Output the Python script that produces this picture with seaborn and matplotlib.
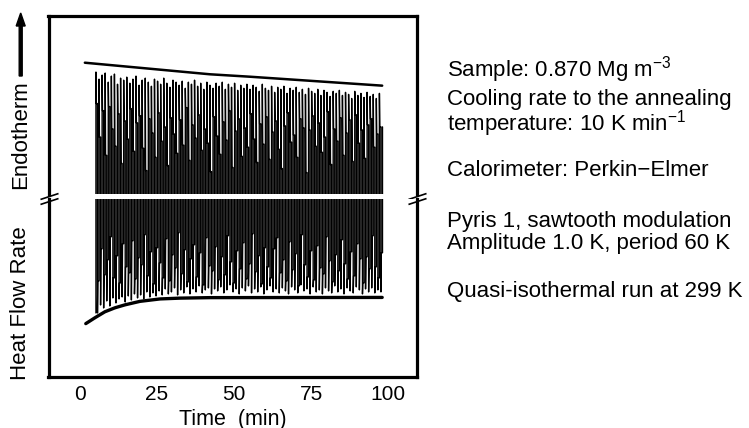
import numpy as np
import pandas as pd
import matplotlib
matplotlib.use('Agg')
import matplotlib.pyplot as plt
import seaborn as sns

# -- quasi-isothermal TMDSC run, sawtooth modulation (arbitrary heat-flow units) --
CYCLE_START = 5.2      # min, first modulation cycle
PERIOD = 1.0           # min (60 s)
SPIKE = 0.12           # min, width of the transient spike
HALF = 0.5             # min, heating half of the cycle

# thin endothermic spikes (upper panel)
UP_PEAK = [
    19.6, 18.9, 19.3, 19.5, 18.6, 19.2, 19.4, 18.4, 19.0, 18.8,
    19.1, 18.5, 18.9, 19.2, 18.3, 18.8, 19.0, 18.6, 18.2, 18.9,
    18.7, 18.4, 19.0, 18.5, 18.1, 18.8, 18.6, 18.3, 18.7, 18.0,
    18.6, 18.4, 18.8, 18.2, 18.5, 17.9, 18.6, 18.3, 18.0, 18.5,
    18.2, 18.6, 17.9, 18.4, 18.1, 18.5, 17.8, 18.3, 18.0, 18.4,
    17.9, 18.3, 18.1, 17.7, 18.4, 18.0, 17.8, 18.2, 17.6, 18.1,
    17.9, 18.2, 17.5, 18.0, 17.8, 18.1, 17.6, 17.9, 17.4, 18.0,
    17.7, 17.5, 17.9, 17.3, 17.8, 17.6, 17.2, 17.7, 17.5, 17.8,
    17.3, 17.6, 17.4, 17.0, 17.7, 17.3, 17.5, 17.1, 17.6, 17.2,
    17.4, 17.0, 17.5,
]
# level held during the heating half
UP_PLAT = [
    16.5, 13.2, 15.8, 11.4, 16.2, 14.0, 12.3, 15.5, 10.6, 14.8,
    13.0, 16.0, 11.8, 14.6, 15.3, 12.1, 9.9, 15.0, 13.6, 11.2,
    15.6, 12.8, 14.2, 10.4, 15.1, 13.5, 11.6, 14.9, 12.4, 16.1,
    10.9, 14.4, 13.1, 15.4, 11.9, 14.0, 12.6, 9.8, 15.2, 13.3,
    11.5, 14.7, 12.9, 15.8, 10.2, 13.8, 15.0, 11.3, 14.1, 12.2,
    15.5, 13.0, 10.7, 14.5, 12.5, 15.2, 11.0, 13.7, 14.8, 12.0,
    10.1, 14.3, 15.6, 12.7, 13.4, 11.2, 15.0, 14.1, 9.7, 13.9,
    15.3, 12.3, 14.6, 11.7, 13.2, 15.7, 10.5, 14.0, 12.8, 15.1,
    11.4, 13.6, 14.9, 10.8, 15.4, 12.6, 13.9, 11.1, 14.4, 15.0,
    12.2, 13.5, 14.2,
]
# thin exothermic spikes (lower panel)
LOW_PEAK = [
    -18.4, -17.6, -17.9, -17.2, -17.7, -16.9, -17.4, -17.0, -16.8, -17.3,
    -16.7, -17.1, -16.5, -16.9, -16.6, -17.0, -16.3, -16.8, -16.4, -16.7,
    -16.2, -16.6, -16.0, -16.5, -16.3, -15.9, -16.6, -16.1, -16.4, -15.8,
    -16.5, -16.0, -16.3, -15.7, -16.4, -16.1, -15.9, -16.5, -16.0, -16.2,
    -15.8, -16.4, -16.1, -15.6, -16.3, -16.0, -16.5, -15.9, -16.2, -15.7,
    -16.4, -16.0, -16.3, -15.8, -16.5, -16.1, -15.7, -16.3, -16.0, -16.4,
    -15.9, -16.2, -16.5, -15.8, -16.1, -16.4, -15.6, -16.2, -16.0, -16.5,
    -15.8, -16.3, -16.1, -16.5, -15.9, -16.2, -16.4, -15.7, -16.3, -16.0,
    -16.5, -15.9, -16.2, -16.4, -15.8, -16.1, -16.5, -16.0, -16.3, -15.9,
    -16.4, -16.1, -16.3,
]
# level held during the cooling half
LOW_PLAT = [
    -15.2, -12.0, -14.6, -13.1, -10.8, -14.9, -12.7, -15.4, -11.5, -13.8,
    -14.4, -11.2, -15.0, -12.9, -13.6, -10.6, -14.7, -12.3, -15.5, -11.9,
    -13.4, -14.9, -11.0, -15.2, -12.6, -13.9, -10.4, -14.5, -12.1, -15.3,
    -13.0, -11.6, -14.8, -12.4, -15.6, -10.9, -13.7, -14.2, -11.8, -15.1,
    -12.8, -14.6, -10.7, -13.3, -15.4, -12.2, -14.0, -11.4, -15.0, -13.5,
    -10.5, -14.3, -12.7, -15.5, -11.9, -13.8, -14.9, -12.0, -10.9, -14.4,
    -13.1, -15.2, -11.3, -14.1, -12.5, -15.7, -10.6, -13.6, -14.8, -12.2,
    -15.1, -11.7, -13.9, -14.5, -10.8, -13.2, -15.3, -12.6, -14.2, -11.1,
    -13.5, -15.0, -12.3, -14.7, -11.5, -13.0, -15.4, -12.8, -14.0, -10.7,
    -13.8, -14.9, -12.4,
]

# envelope curves
UP_ENV_T = [1.6, 16.2, 42.2, 55.2, 98.1]
UP_ENV_Y = [20.52, 20.11, 19.38, 19.14, 18.26]
LOW_ENV_T = [1.9, 4.9, 8.1, 11.4, 14.6, 19.5, 26.0, 32.5, 42.2, 98.1]
LOW_ENV_Y = [-19.46, -18.87, -18.28, -17.88, -17.59, -17.24, -17.00, -16.92, -16.87, -16.85]

XTICKS = [0, 25, 50, 75, 100]
UP_YTICKS = [10, 20]
LOW_YTICKS = [-20, -10]

NOTES = [
    (70, 'Sample: 0.870 Mg m$^{-3}$'),
    (99, 'Cooling rate to the annealing'),
    (124, 'temperature: 10 K min$^{-1}$'),
    (170, 'Calorimeter: Perkin\u2212Elmer'),
    (221, 'Pyris 1, sawtooth modulation'),
    (243, 'Amplitude 1.0 K, period 60 K'),
    (292, 'Quasi-isothermal run at 299 K'),
]


def build_signal():
    t, y = [CYCLE_START], [LOW_PEAK[0]]
    for i in range(len(UP_PEAK)):
        t0 = CYCLE_START + i * PERIOD
        t += [t0, t0 + SPIKE, t0 + HALF, t0 + HALF, t0 + HALF + SPIKE, t0 + PERIOD]
        y += [UP_PEAK[i], UP_PLAT[i], UP_PLAT[i], LOW_PEAK[i], LOW_PLAT[i], LOW_PLAT[i]]
    t.append(CYCLE_START + len(UP_PEAK) * PERIOD)
    y.append(UP_PLAT[-1])
    return pd.DataFrame({'time': t, 'heat': y})


def main():
    sns.set_style('white')
    plt.rcParams['font.family'] = ['Liberation Sans', 'DejaVu Sans']
    plt.rcParams['mathtext.fontset'] = 'custom'
    plt.rcParams['mathtext.rm'] = 'Liberation Sans'
    plt.rcParams['mathtext.it'] = 'Liberation Sans:italic'
    plt.rcParams['text.color'] = 'black'
    plt.rcParams['axes.labelcolor'] = 'black'
    plt.rcParams['xtick.color'] = 'black'
    plt.rcParams['ytick.color'] = 'black'

    W, H = 749, 428
    fig = plt.figure(figsize=(W / 100, H / 100), dpi=100)
    left, right = 48.5 / W, 417 / W
    ax_up = fig.add_axes([left, 1 - 194 / H, right - left, (194 - 16) / H])
    ax_lo = fig.add_axes([left, 1 - 377 / H, right - left, (377 - 199) / H])

    df = build_signal()
    env_up = pd.DataFrame({'time': UP_ENV_T, 'heat': UP_ENV_Y})
    env_lo = pd.DataFrame({'time': LOW_ENV_T, 'heat': LOW_ENV_Y})

    for ax in (ax_up, ax_lo):
        sns.lineplot(data=df, x='time', y='heat', sort=False, estimator=None,
                     color='black', linewidth=1.0, ax=ax)
    sns.lineplot(data=env_up, x='time', y='heat', sort=False, estimator=None,
                 color='black', linewidth=1.8, ax=ax_up)
    sns.lineplot(data=env_lo, x='time', y='heat', sort=False, estimator=None,
                 color='black', linewidth=2.4, ax=ax_lo)

    for ax in (ax_up, ax_lo):
        ax.set_xlim(-10.2, 109.4)
        for s in ax.spines.values():
            s.set_linewidth(2.3)
            s.set_color('black')
        ax.tick_params(direction='in', length=6, width=1.1, color='black',
                       labelcolor='black', labelsize=15, pad=6)
        ax.set_xlabel('')
        ax.set_ylabel('')

    ax_up.set_ylim(7.59, 25.12)
    ax_lo.set_ylim(-24.78, -7.04)
    ax_up.set_yticks(UP_YTICKS)
    ax_lo.set_yticks(LOW_YTICKS)
    ax_up.set_yticklabels([])
    ax_lo.set_yticklabels([])
    ax_up.set_xticks([])
    ax_lo.set_xticks(XTICKS)
    ax_lo.set_xticklabels([str(v) for v in XTICKS])
    ax_up.spines['bottom'].set_visible(False)
    ax_lo.spines['top'].set_visible(False)
    ax_lo.set_xlabel('Time  (min)', fontsize=15.5, labelpad=3, color='black')

    # break marks
    kw = dict(marker=[(-1, -0.33), (1, 0.33)], markersize=13, linestyle='none',
              color='k', mec='k', mew=1.2, clip_on=False)
    ax_up.plot([0, 1], [-0.01, -0.01], transform=ax_up.transAxes, **kw)
    ax_lo.plot([0, 1], [0.99, 0.99], transform=ax_lo.transAxes, **kw)

    # y-axis labels
    fig.text(20.7 / W, 1 - 303 / H, 'Heat Flow Rate', rotation=90,
             ha='center', va='center', fontsize=16)
    fig.text(20.7 / W, 1 - 135 / H, 'Endotherm', rotation=90,
             ha='center', va='center', fontsize=16)
    fig.patches.append(matplotlib.patches.FancyArrow(
        20.7 / W, 1 - 76 / H, 0, (76 - 13) / H, width=3.0 / W,
        head_width=9.0 / W, head_length=13 / H, length_includes_head=True,
        color='black', transform=fig.transFigure, figure=fig))

    for ypx, txt in NOTES:
        fig.text(447 / W, 1 - ypx / H, txt, ha='left', va='center', fontsize=16)

    fig.savefig('out.png', dpi=100)
    plt.close(fig)


if __name__ == '__main__':
    main()
